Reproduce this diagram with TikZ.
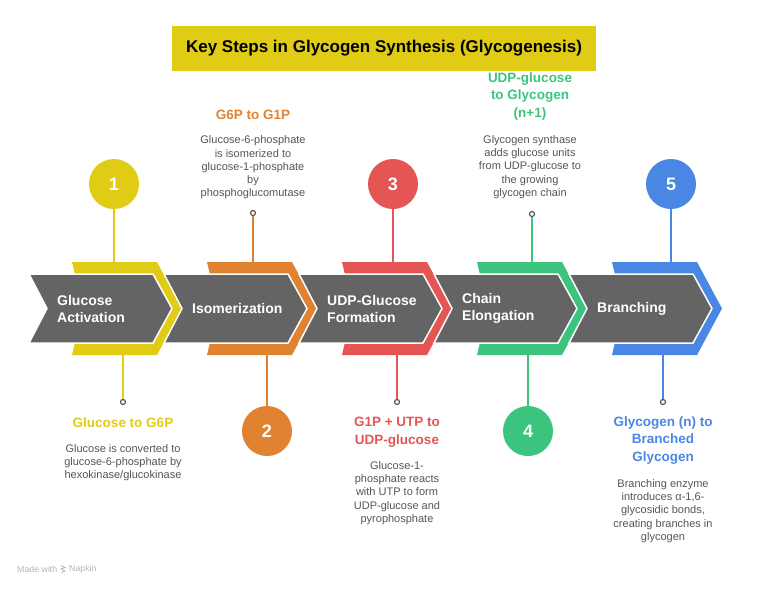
\documentclass[tikz,border=0pt]{standalone}
\usepackage{fontspec}
\setmainfont{Liberation Sans}
\usetikzlibrary{positioning}

\definecolor{stepyellow}{HTML}{E0CB15}
\definecolor{steporange}{HTML}{E0822F}
\definecolor{stepred}{HTML}{E45553}
\definecolor{stepgreen}{HTML}{3CC47F}
\definecolor{stepblue}{HTML}{4A86E3}
\definecolor{chevgray}{HTML}{646464}
\definecolor{descgray}{HTML}{555555}
\definecolor{markgray}{HTML}{B4B4B4}

\tikzset{
  numcirc/.style={circle, fill=#1, minimum size=50pt, inner sep=0pt, text=white,
    font=\fontsize{18}{20}\selectfont\bfseries},
  smalldot/.style={circle, draw=descgray, fill=white, line width=1.2pt,
    minimum size=5pt, inner sep=0pt},
  steptitle/.style={text=#1, font=\fontsize{13.5}{17.5}\selectfont\bfseries, align=center},
  stepdesc/.style={text=descgray, font=\fontsize{11}{13.3}\selectfont, align=center},
  chevlabel/.style={text=white, font=\fontsize{14}{17}\selectfont\bfseries,
    align=left, anchor=west, inner sep=0pt},
  link/.style={draw=#1, line width=1.5pt},
  footmark/.style={text=markgray, font=\fontsize{8.8}{10}\selectfont, anchor=west, inner sep=0pt},
}

\begin{document}
\begin{tikzpicture}[x=1pt, y=-1pt]
  \useasboundingbox (0,0) rectangle (768,590);

  % title bar
  \node[fill=stepyellow, minimum width=424pt, minimum height=45pt,
    font=\fontsize{17}{20}\selectfont\bfseries] (title) at (384,48.5)
    {Key Steps in Glycogen Synthesis (Glycogenesis)};

  % chevrons
  \foreach \c [count=\i from 0] in {stepyellow,steporange,stepred,stepgreen,stepblue} {
    \begin{scope}[xshift=\i*135pt]
      \fill[\c] (72,262) -- (157,262) -- (182,308.5) -- (157,355)
        -- (72,355) -- (83,308.5) -- cycle;
      \filldraw[fill=chevgray, draw=white, line width=1.5pt]
        (29,274) -- (153,274) -- (172,308.5) -- (153,343)
        -- (29,343) -- (47,308.5) -- cycle;
    \end{scope}
  }

  \node[chevlabel] (c1) at (57,308.5) {Glucose\\Activation};
  \node[chevlabel] (c2) at (192,308.5) {Isomerization};
  \node[chevlabel] (c3) at (327,308.5) {UDP-Glucose\\Formation};
  \node[chevlabel] (c4) at (462,308.5) {Chain\\Elongation};
  \node[chevlabel] (c5) at (597,308.5) {Branching};

  % band edges
  \coordinate (b1t) at (114,262);
  \coordinate (b1b) at (123,355);
  \coordinate (b2t) at (253,262);
  \coordinate (b2b) at (267,355);
  \coordinate (b3t) at (393,262);
  \coordinate (b3b) at (397,355);
  \coordinate (b4t) at (532,262);
  \coordinate (b4b) at (528,355);
  \coordinate (b5t) at (671,262);
  \coordinate (b5b) at (663,355);

  % number circles
  \node[numcirc=stepyellow] (n1) at (114,184) {1};
  \node[numcirc=steporange] (n2) at (267,431) {2};
  \node[numcirc=stepred] (n3) at (393,184) {3};
  \node[numcirc=stepgreen] (n4) at (528,431) {4};
  \node[numcirc=stepblue] (n5) at (671,184) {5};

  % small end dots
  \node[smalldot] (d1) at (123,402) {};
  \node[smalldot] (d2) at (253,213) {};
  \node[smalldot] (d3) at (397,402) {};
  \node[smalldot] (d4) at (532,214) {};
  \node[smalldot] (d5) at (663,402) {};

  \draw[link=stepyellow] (n1) -- (b1t);
  \draw[link=stepyellow] (b1b) -- (d1);
  \draw[link=steporange] (d2) -- (b2t);
  \draw[link=steporange] (b2b) -- (n2);
  \draw[link=stepred] (n3) -- (b3t);
  \draw[link=stepred] (b3b) -- (d3);
  \draw[link=stepgreen] (d4) -- (b4t);
  \draw[link=stepgreen] (b4b) -- (n4);
  \draw[link=stepblue] (n5) -- (b5t);
  \draw[link=stepblue] (b5b) -- (d5);

  % step texts
  \node[steptitle=stepyellow] (t1) at (123,423) {Glucose to G6P};
  \node[stepdesc] (s1) at (123,462.5)
    {Glucose is converted to\\glucose-6-phosphate by\\hexokinase/glucokinase};

  \node[steptitle=steporange] (t2) at (253,115) {G6P to G1P};
  \node[stepdesc] (s2) at (253,167.5)
    {Glucose-6-phosphate\\is isomerized to\\glucose-1-phosphate\\by\\phosphoglucomutase};

  \node[steptitle=stepred] (t3) at (397,432) {G1P + UTP to\\UDP-glucose};
  \node[stepdesc] (s3) at (397,493)
    {Glucose-1-\\phosphate reacts\\with UTP to form\\UDP-glucose and\\pyrophosphate};

  \node[steptitle=stepgreen] (t4) at (530,96.5) {UDP-glucose\\to Glycogen\\(n+1)};
  \node[stepdesc] (s4) at (530,167)
    {Glycogen synthase\\adds glucose units\\from UDP-glucose to\\the growing\\glycogen chain};

  \node[steptitle=stepblue] (t5) at (663,440.5) {Glycogen (n) to\\Branched\\Glycogen};
  \node[stepdesc] (s5) at (663,511)
    {Branching enzyme\\introduces α-1,6-\\glycosidic bonds,\\creating branches in\\glycogen};

  % footer mark
  \node[footmark] (made) at (17,569) {Made with};
  \node[footmark] (napkin) at (69,569) {Napkin};
  \draw[markgray, line width=0.8pt] (61,565.5) -- (65,567.5) -- (61,569)
    -- (65,571) -- (61,572.5);
\end{tikzpicture}
\end{document}
